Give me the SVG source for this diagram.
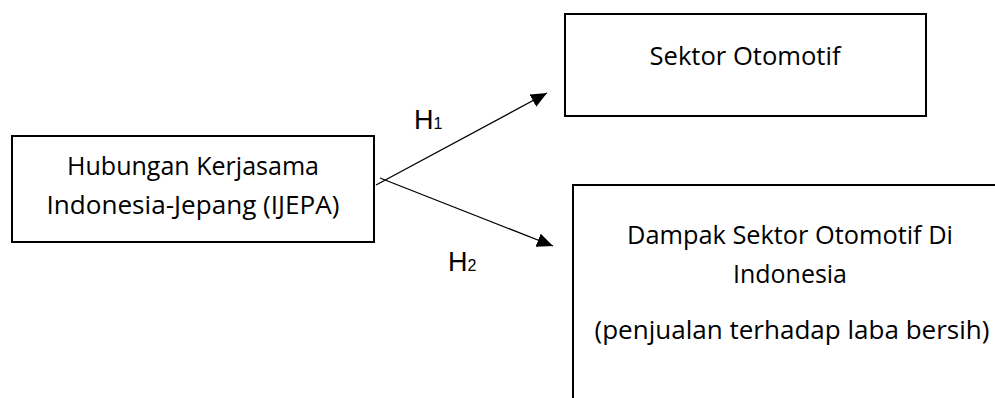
<svg xmlns="http://www.w3.org/2000/svg" width="995" height="398" viewBox="0 0 995 398">
<style>
.box{fill:#fff;stroke:#000;stroke-width:2}
.t{font-family:"Open Sans","Noto Sans",sans-serif;font-size:26px;fill:#000;text-anchor:middle}
.h{font-family:"Liberation Sans",Arial,sans-serif;font-size:27px;fill:#000}
.conn{stroke:#000;stroke-width:1.3;fill:none}
</style>
<defs>
<marker id="arr" viewBox="0 0 16 14" refX="16" refY="7" markerWidth="16" markerHeight="14" markerUnits="userSpaceOnUse" orient="auto">
<path d="M0,0 L16,7 L0,14 z" fill="#000"/>
</marker>
</defs>
<rect width="995" height="398" fill="#fff"/>
<g id="node-ijepa">
<rect class="box" x="12" y="136" width="362" height="106"/>
<text class="t" x="193" y="175" textLength="252" lengthAdjust="spacingAndGlyphs">Hubungan Kerjasama</text>
<text class="t" x="193" y="214" textLength="293" lengthAdjust="spacingAndGlyphs">Indonesia-Jepang (IJEPA)</text>
</g>
<g id="node-sektor">
<rect class="box" x="565" y="14" width="361" height="102"/>
<text class="t" x="745" y="65" textLength="191" lengthAdjust="spacingAndGlyphs">Sektor Otomotif</text>
</g>
<g id="node-dampak">
<rect class="box" x="573" y="185" width="440" height="240"/>
<text class="t" x="790" y="244" textLength="326" lengthAdjust="spacingAndGlyphs">Dampak Sektor Otomotif Di</text>
<text class="t" x="790" y="283" textLength="114" lengthAdjust="spacingAndGlyphs">Indonesia</text>
<text class="t" x="792" y="339" textLength="395" lengthAdjust="spacingAndGlyphs">(penjualan terhadap laba bersih)</text>
</g>
<g id="connectors">
<line class="conn" x1="376" y1="185" x2="547" y2="93" marker-end="url(#arr)"/>
<line class="conn" x1="380" y1="178" x2="553" y2="246" marker-end="url(#arr)"/>
<text class="h" x="414" y="129">H<tspan font-size="16">1</tspan></text>
<text class="h" x="448" y="271">H<tspan font-size="16">2</tspan></text>
</g>
</svg>
